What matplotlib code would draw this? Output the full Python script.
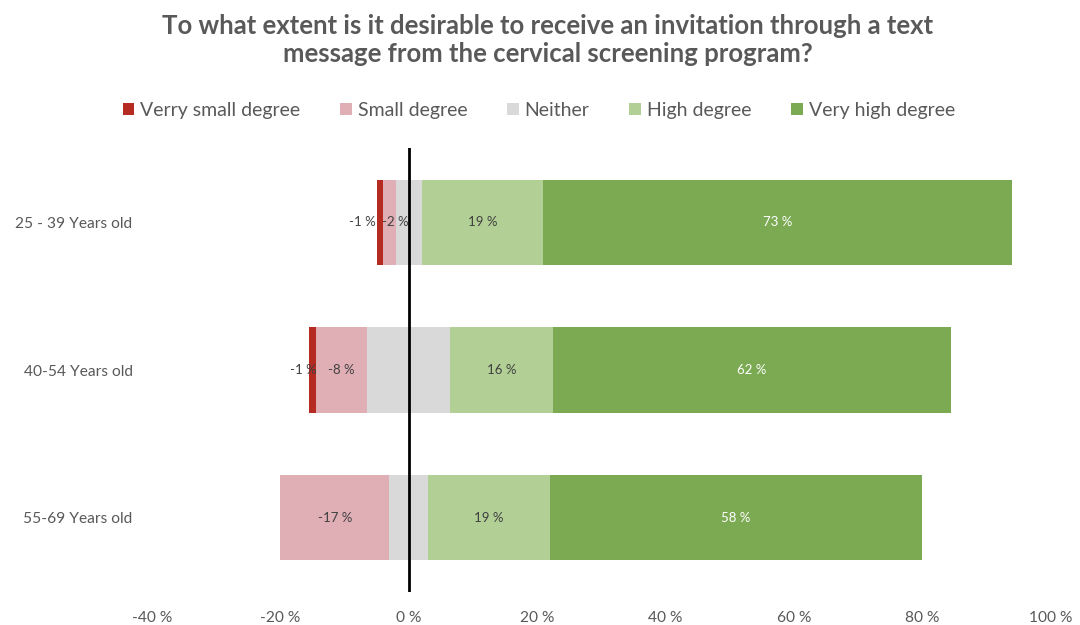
#! /usr/bin/python
# -*- coding:utf-8 -*-

import numpy as np
import matplotlib
matplotlib.use('Agg')
import matplotlib.pyplot as plt
from matplotlib.patches import Patch


# ━━━━━━━━━━━━━━━━━━━━━━━━━━━━━━━━━━━━━━━━━━━━━━━━━━━━━━━━━━
# Data (percent)
# ━━━━━━━━━━━━━━━━━━━━━━━━━━━━━━━━━━━━━━━━━━━━━━━━━━━━━━━━━━
groups = ['25 - 39 Years old', '40-54 Years old', '55-69 Years old']
very_small = [1, 1, 0]
small = [2, 8, 17]
neither = [4, 13, 6]
high = [19, 16, 19]
very_high = [73, 62, 58]

legend_labels = ['Verry small degree', 'Small degree', 'Neither', 'High degree', 'Very high degree']
colors = ['#B52B22', '#E0AEB5', '#D9D9D9', '#B2CF96', '#7BAA53']
xticks = [-40, -20, 0, 20, 40, 60, 80, 100]

# label nudges (x units) so the tiny segments' labels don't collide
vs_nudge = [-2.65, -1.35, 0]
sm_nudge = [0.9, 0, 0]

TEXT = '#595959'
plt.rcParams['font.family'] = ['Lato', 'DejaVu Sans']


# ━━━━━━━━━━━━━━━━━━━━━━━━━━━━━━━━━━━━━━━━━━━━━━━━━━━━━━━━━━
# Main
# ━━━━━━━━━━━━━━━━━━━━━━━━━━━━━━━━━━━━━━━━━━━━━━━━━━━━━━━━━━
if __name__ == '__main__':
    fig = plt.figure(figsize=(10.8, 6.25), dpi=100)
    ax = fig.add_axes([0.1407, 0.053, 0.832, 0.71])

    y = np.arange(len(groups))
    h = 0.575
    vs = np.array(very_small, dtype=float)
    sm = np.array(small, dtype=float)
    ne = np.array(neither, dtype=float)
    hi = np.array(high, dtype=float)
    vh = np.array(very_high, dtype=float)

    # left side (negative), neither split around zero
    ne_left = -ne / 2
    sm_left = ne_left - sm
    vs_left = sm_left - vs
    zero = [0] * len(groups)
    segs = [
        (vs_left, vs, colors[0], [-v for v in very_small], '#404040', vs_nudge),
        (sm_left, sm, colors[1], [-v for v in small], '#404040', sm_nudge),
        (ne_left, ne, colors[2], None, None, zero),
        (ne / 2, hi, colors[3], high, '#404040', zero),
        (ne / 2 + hi, vh, colors[4], very_high, 'white', zero),
    ]
    for left, width, c, labels, tc, nudge in segs:
        ax.barh(y, width, left=left, height=h, color=c, linewidth=0)
        if labels is None:
            continue
        for yi, l, w, lab, dx in zip(y, left, width, labels, nudge):
            if w <= 0:
                continue
            ax.text(l + w / 2 + dx, yi, '{} %'.format(lab), ha='center', va='center',
                    fontsize=9.5, color=tc)

    ax.axvline(0, color='black', linewidth=2, ymin=-0.012, ymax=1)

    ax.set_xlim(-40, 100)
    ax.set_ylim(2.5, -0.5)
    ax.set_xticks(xticks)
    ax.set_xticklabels(['{} %'.format(t) for t in xticks])
    ax.set_yticks(y)
    ax.set_yticklabels(groups)
    ax.tick_params(axis='both', length=0, colors=TEXT, labelsize=11.2)
    ax.tick_params(axis='x', pad=14)
    ax.tick_params(axis='y', pad=14)
    for s in ax.spines.values():
        s.set_visible(False)

    handles = [Patch(facecolor=c, edgecolor='none') for c in colors]
    fig.legend(handles, legend_labels, loc='center', bbox_to_anchor=(0.499, 0.823),
               ncol=5, frameon=False, fontsize=14, handlelength=0.6, handleheight=0.6,
               handletextpad=0.3, columnspacing=2.05, labelcolor=TEXT)

    fig.text(0.507, 0.936, 'To what extent is it desirable to receive an invitation through a text\n'
             'message from the cervical screening program?', ha='center', va='center',
             fontsize=18.5, fontweight='bold', color=TEXT, linespacing=1.25)

    plt.savefig('out.png', dpi=100)
